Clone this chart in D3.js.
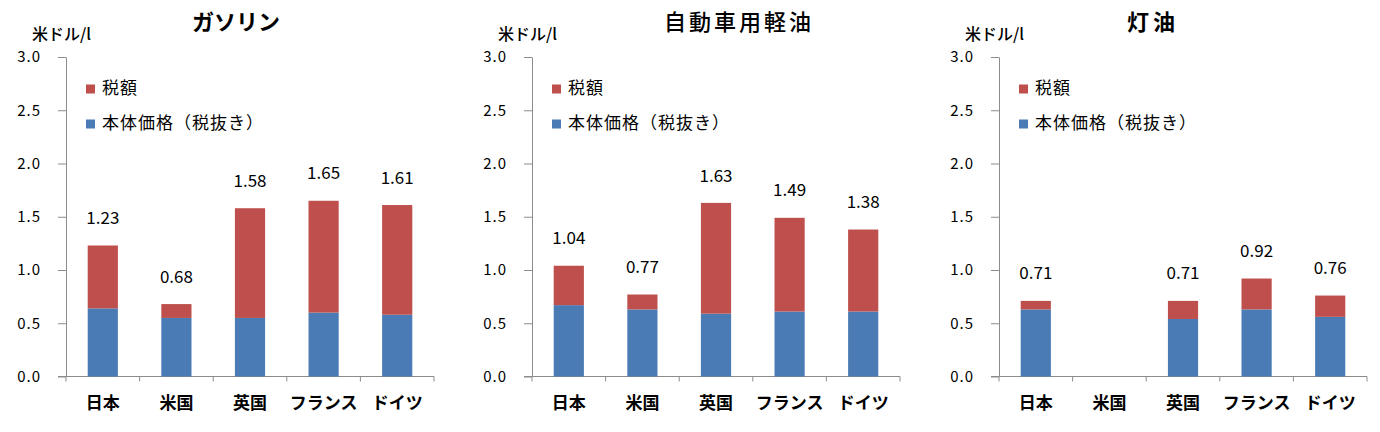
<!DOCTYPE html>
<html>
<head>
<meta charset="utf-8">
<script src="https://cdn.jsdelivr.net/npm/d3@7"></script>
<style>
  body { margin: 0; background: #fff; }
  text { font-family: "Noto Sans CJK JP", "Noto Sans", sans-serif; }
</style>
</head>
<body>
<svg id="chart" width="1380" height="432"></svg>
<script>
// data
const countries = ["日本", "米国", "英国", "フランス", "ドイツ"];
const titles = ["ガソリン", "自動車用軽油", "灯油"];
const gasolineBase = [0.64, 0.55, 0.55, 0.60, 0.58];
const gasolineTotal = [1.23, 0.68, 1.58, 1.65, 1.61];
const dieselBase = [0.67, 0.63, 0.59, 0.61, 0.61];
const dieselTotal = [1.04, 0.77, 1.63, 1.49, 1.38];
const keroseneBase = [0.63, null, 0.54, 0.63, 0.56];
const keroseneTotal = [0.71, null, 0.71, 0.92, 0.76];
const yTicks = [0, 0.5, 1.0, 1.5, 2.0, 2.5, 3.0];
const legendLabels = ["税額", "本体価格（税抜き）"];
const unitLabel = "米ドル/l";

const baseSeries = [gasolineBase, dieselBase, keroseneBase];
const totalSeries = [gasolineTotal, dieselTotal, keroseneTotal];

// layout
const panelLeft = [66, 532, 999];
const plotWidth = 368;
const yTop = 57, yBottom = 376.5;
const titleX = [236, 739, 1153];
const titleSpacing = [0, 3, 4];
const titleWeight = ["bold", 500, "bold"];
const taxColor = "#BE4F4C";
const baseColor = "#4A7BB5";
const axisColor = "#8c8c8c";

const svg = d3.select("#chart");

titles.forEach(function(title, i) {
  const g = svg.append("g").attr("transform", "translate(" + panelLeft[i] + ",0)");

  const y = d3.scaleLinear().domain([0, 3]).range([yBottom, yTop]);
  const x = d3.scaleBand().domain(countries).range([0, plotWidth]);
  const barW = x.bandwidth() * 0.41;

  const rows = countries.map(function(c, k) {
    return { country: c, base: baseSeries[i][k], total: totalSeries[i][k] };
  }).filter(function(d) { return d.total != null; });

  // title
  svg.append("text")
    .attr("x", titleX[i])
    .attr("y", 24)
    .attr("text-anchor", "middle")
    .attr("dominant-baseline", "middle")
    .style("font-size", "22px")
    .style("font-weight", titleWeight[i])
    .style("letter-spacing", titleSpacing[i] + "px")
    .text(title);

  // unit label
  g.append("text")
    .attr("x", -34)
    .attr("y", 36)
    .attr("dominant-baseline", "middle")
    .style("font-size", "16px")
    .style("font-weight", 500)
    .text(unitLabel);

  // y axis
  const yAxis = d3.axisLeft(y)
    .tickValues(yTicks)
    .tickFormat(d3.format(".1f"))
    .tickSize(8)
    .tickSizeOuter(0)
    .tickPadding(17);
  const ya = g.append("g").attr("class", "y-axis").call(yAxis);
  ya.select(".domain").attr("stroke", axisColor);
  ya.selectAll(".tick line").attr("stroke", axisColor);
  ya.selectAll(".tick text")
    .style("font-size", "15px")
    .style("letter-spacing", "1px")
    .attr("fill", "#000");

  // x axis
  const xa = g.append("g").attr("transform", "translate(0," + yBottom + ")");
  xa.append("line")
    .attr("x1", -8).attr("x2", plotWidth)
    .attr("stroke", axisColor);
  xa.selectAll(".sep")
    .data(d3.range(countries.length + 1))
    .join("line")
    .attr("class", "sep")
    .attr("x1", function(k) { return k * x.step(); })
    .attr("x2", function(k) { return k * x.step(); })
    .attr("y1", 0).attr("y2", 5)
    .attr("stroke", axisColor);
  xa.selectAll(".cat")
    .data(countries)
    .join("text")
    .attr("class", "cat")
    .attr("x", function(c) { return x(c) + x.bandwidth() / 2; })
    .attr("y", 28)
    .attr("text-anchor", "middle")
    .attr("dominant-baseline", "middle")
    .style("font-size", "17px")
    .style("font-weight", "bold")
    .text(function(c) { return c; });

  // bars: base price
  g.selectAll(".base")
    .data(rows)
    .join("rect")
    .attr("class", "base")
    .attr("x", function(d) { return x(d.country) + (x.bandwidth() - barW) / 2; })
    .attr("width", barW)
    .attr("y", function(d) { return y(d.base); })
    .attr("height", function(d) { return y(0) - y(d.base); })
    .attr("fill", baseColor);

  // bars: tax
  g.selectAll(".tax")
    .data(rows)
    .join("rect")
    .attr("class", "tax")
    .attr("x", function(d) { return x(d.country) + (x.bandwidth() - barW) / 2; })
    .attr("width", barW)
    .attr("y", function(d) { return y(d.total); })
    .attr("height", function(d) { return y(d.base) - y(d.total); })
    .attr("fill", taxColor);

  // totals
  g.selectAll(".val")
    .data(rows)
    .join("text")
    .attr("class", "val")
    .attr("x", function(d) { return x(d.country) + x.bandwidth() / 2; })
    .attr("y", function(d) { return y(d.total) - 26; })
    .attr("text-anchor", "middle")
    .attr("dominant-baseline", "middle")
    .style("font-size", "17px")
    .text(function(d) { return d3.format(".2f")(d.total); });

  // legend
  const legend = g.selectAll(".legend")
    .data(legendLabels)
    .join("g")
    .attr("class", "legend")
    .attr("transform", function(d, k) { return "translate(20," + (89 + k * 35) + ")"; });
  legend.append("rect")
    .attr("x", 0).attr("y", -4.5)
    .attr("width", 9).attr("height", 9)
    .attr("fill", function(d, k) { return k === 0 ? taxColor : baseColor; });
  legend.append("text")
    .attr("x", 16)
    .attr("y", 0)
    .attr("dominant-baseline", "middle")
    .style("font-size", "17px")
    .style("letter-spacing", "1px")
    .text(function(d) { return d; });
});
</script>
</body>
</html>
